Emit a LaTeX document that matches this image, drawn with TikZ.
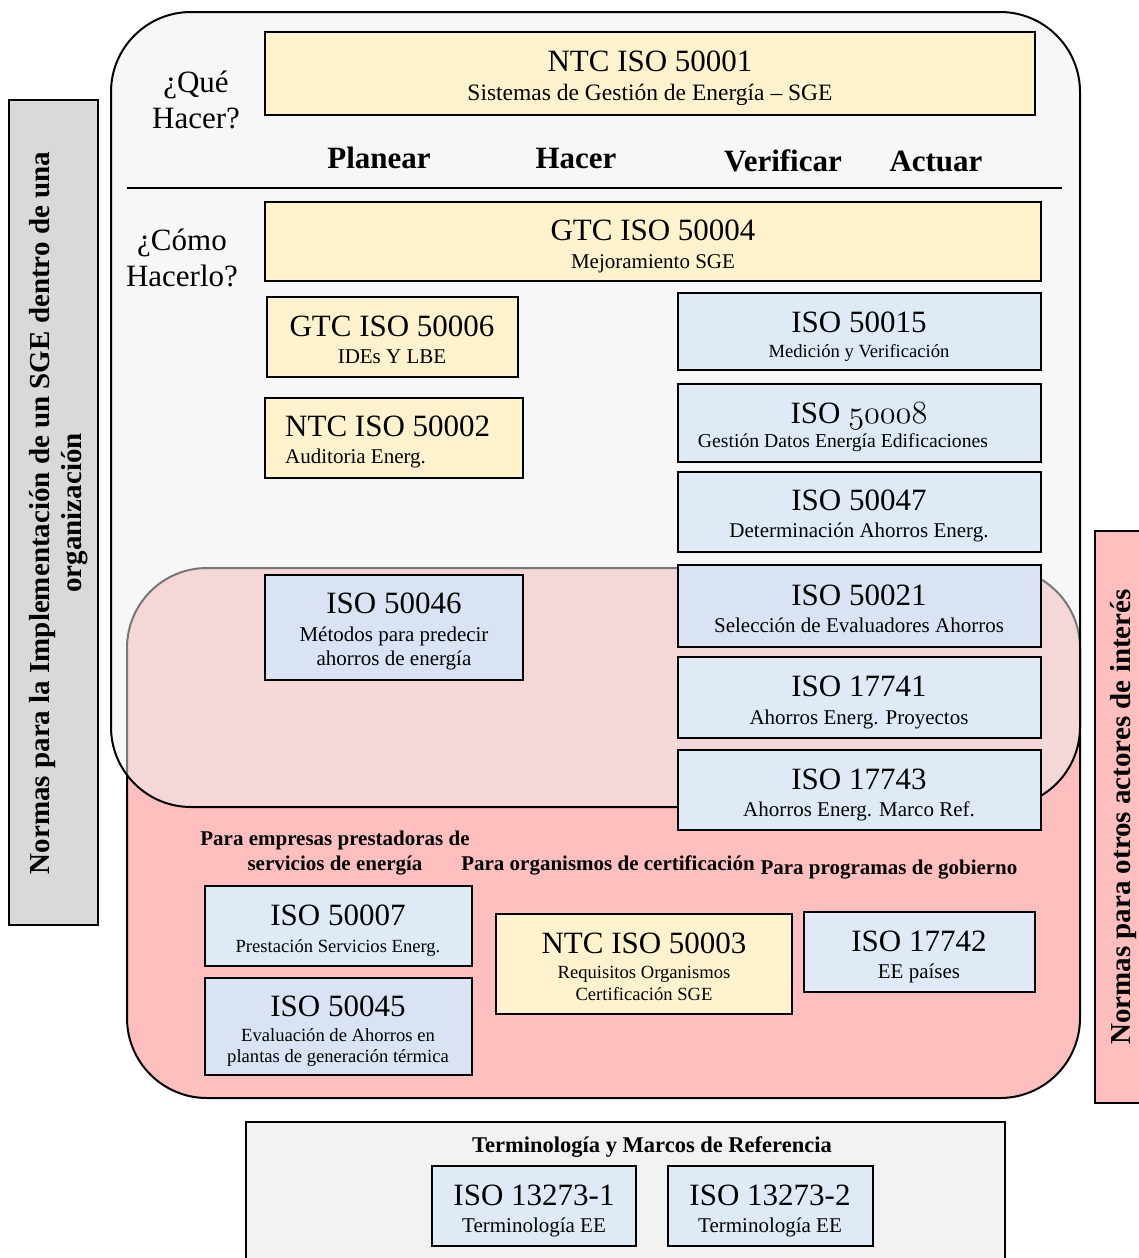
\documentclass[tikz,border=0pt]{standalone}
\usepackage{fontspec}
\setmainfont{Liberation Serif}
\usepackage{graphicx}
\definecolor{yel}{HTML}{FFF2CC}
\definecolor{lb}{HTML}{DEEBF7}
\definecolor{db}{HTML}{DAE3F3}
\definecolor{pk}{HTML}{FFBFBF}
\definecolor{grf}{HTML}{EFEFEF}
\definecolor{sidegray}{HTML}{D9D9D9}
\definecolor{botgray}{HTML}{F2F2F2}
\begin{document}
\begin{tikzpicture}[x=1pt,y=-1pt,
  box/.style={draw=black, line width=1.5pt, inner sep=0pt, outer sep=0pt, anchor=north west},
  ybox/.style={box, fill=yel},
  lbox/.style={box, fill=lb},
  dbox/.style={box, fill=db},
  ttl/.style={font=\fontsize{31}{31}\selectfont, inner sep=0pt, text height=20.5pt, text depth=0pt},
  sub/.style={font=\fontsize{21}{21}\selectfont, inner sep=0pt, text height=14pt, text depth=0pt},
  ssub/.style={font=\fontsize{18.6}{18.6}\selectfont, inner sep=0pt, text height=12.3pt, text depth=0pt},
  phase/.style={font=\fontsize{31}{31}\selectfont\bfseries, inner sep=0pt, text height=20.5pt, text depth=0pt},
  q/.style={font=\fontsize{31}{31}\selectfont, inner sep=0pt, text height=20.5pt, text depth=0pt},
  lab/.style={font=\fontsize{21}{21}\selectfont\bfseries, inner sep=0pt, text height=14pt, text depth=0pt},
  side/.style={font=\fontsize{29}{29}\selectfont\bfseries, inner sep=0pt, text height=19pt, text depth=0pt, rotate=90}
]
\useasboundingbox (0,0) rectangle (1138,1258);

% big rounded areas
\node[draw=black, line width=2pt, fill=pk, rounded corners=80pt, minimum width=953pt, minimum height=530pt, inner sep=0pt, outer sep=0pt, anchor=north west] (pinkarea) at (127,568) {};
\node[draw=black, line width=2pt, fill=grf, fill opacity=0.5, rounded corners=80pt, minimum width=969pt, minimum height=795pt, inner sep=0pt, outer sep=0pt, anchor=north west] (grayarea) at (111,12) {};

% side boxes
\node[box, fill=sidegray, minimum width=89pt, minimum height=825pt] (leftbox) at (9,100) {};
\node[side] (lt1) at (40,513) {Normas para la Implementación de un SGE dentro de una};
\node[side] (lt2) at (72,513) {organización};
\node[box, fill=pk, minimum width=50pt, minimum height=572pt] (rightbox) at (1095,531) {};
\node[side] (rt) at (1121,817) {Normas para otros actores de interés};

% top part
\node[q] (que1) at (196,82) {¿Qué};
\node[q] (que2) at (196,118) {Hacer?};
\node[ybox, minimum width=770pt, minimum height=83pt] (b50001) at (265,32) {};
\node[ttl] (t50001) at (650,61) {NTC ISO 50001};
\node[font=\fontsize{23.5}{23.5}\selectfont, inner sep=0pt, text height=15.5pt, text depth=0pt] (s50001) at (650,93) {Sistemas de Gestión de Energía – SGE};

\node[phase] (planear) at (379,158) {Planear};
\node[phase] (hacer) at (576,158) {Hacer};
\node[phase] (verif) at (783,161) {Verificar};
\node[phase] (actuar) at (936,161) {Actuar};

\coordinate (lineL) at (127,188);
\coordinate (lineR) at (1062,188);
\draw[line width=1.6pt] (lineL) -- (lineR);

\node[q] (como1) at (182,240) {¿Cómo};
\node[q] (como2) at (182,276) {Hacerlo?};

\node[ybox, minimum width=776pt, minimum height=79pt] (b50004) at (265,202) {};
\node[ttl] (t50004) at (653,230) {GTC ISO 50004};
\node[sub] (s50004) at (653,261) {Mejoramiento SGE};

\node[ybox, minimum width=251pt, minimum height=80pt] (b50006) at (267,297) {};
\node[ttl] (t50006) at (392,326) {GTC ISO 50006};
\node[sub] (s50006) at (392,356) {IDEs Y LBE};

\node[ybox, minimum width=258pt, minimum height=80pt] (b50002) at (265,398) {};
\node[ttl, anchor=west] (t50002) at (285,426) {NTC ISO 50002};
\node[sub, anchor=west] (s50002) at (285,456) {Auditoria Energ.};

\node[lbox, minimum width=363pt, minimum height=77pt] (b50015) at (678,293) {};
\node[ttl] (t50015) at (859,322) {ISO 50015};
\node[ssub] (s50015) at (859,351) {Medición y Verificación};

\node[lbox, minimum width=363pt, minimum height=78pt] (b50008) at (678,384) {};
\node[ttl] (t50008) at (859,413) {ISO \scalebox{1.3}{$\mathnormal{50008}$}};
\node[font=\fontsize{19.7}{19.7}\selectfont, inner sep=0pt, text height=13pt, text depth=0pt] (s50008) at (843,441) {Gestión Datos Energía Edificaciones};

\node[lbox, minimum width=363pt, minimum height=80pt] (b50047) at (678,472) {};
\node[ttl] (t50047) at (859,500) {ISO 50047};
\node[sub] (s50047) at (859,530) {Determinación Ahorros Energ.};

\node[dbox, minimum width=363pt, minimum height=82pt] (b50021) at (678,565) {};
\node[ttl] (t50021) at (859,595) {ISO 50021};
\node[sub] (s50021) at (859,625) {Selección de Evaluadores Ahorros};

\node[lbox, minimum width=363pt, minimum height=81pt] (b17741) at (678,657) {};
\node[ttl] (t17741) at (859,686) {ISO 17741};
\node[sub] (s17741) at (859,717) {Ahorros Energ. Proyectos};

\node[lbox, minimum width=363pt, minimum height=80pt] (b17743) at (678,750) {};
\node[ttl] (t17743) at (859,779) {ISO 17743};
\node[sub] (s17743) at (859,809) {Ahorros Energ. Marco Ref.};

\node[dbox, minimum width=258pt, minimum height=105pt] (b50046) at (265,575) {};
\node[ttl] (t50046) at (394,603) {ISO 50046};
\node[sub] (s50046a) at (394,634) {Métodos para predecir};
\node[sub] (s50046b) at (394,658) {ahorros de energía};

% lower part
\node[lab] (l1a) at (335,838) {Para empresas prestadoras de};
\node[lab] (l1b) at (335,863) {servicios de energía};
\node[lab] (l2) at (608,863) {Para organismos de certificación};
\node[lab] (l3) at (889,867) {Para programas de gobierno};

\node[lbox, minimum width=267pt, minimum height=80pt] (b50007) at (205,886) {};
\node[ttl] (t50007) at (338,915) {ISO 50007};
\node[ssub] (s50007) at (338,946) {Prestación Servicios Energ.};

\node[dbox, minimum width=267pt, minimum height=97pt] (b50045) at (205,978) {};
\node[ttl] (t50045) at (338,1006) {ISO 50045};
\node[ssub] (s50045a) at (338,1035) {Evaluación de Ahorros en};
\node[ssub] (s50045b) at (338,1056) {plantas de generación térmica};

\node[ybox, minimum width=296pt, minimum height=100pt] (b50003) at (496,914) {};
\node[ttl] (t50003) at (644,943) {NTC ISO 50003};
\node[ssub] (s50003a) at (644,972) {Requisitos Organismos};
\node[ssub] (s50003b) at (644,994) {Certificación SGE};

\node[lbox, minimum width=231pt, minimum height=80pt] (b17742) at (804,912) {};
\node[ttl] (t17742) at (919,941) {ISO 17742};
\node[sub] (s17742) at (919,971) {EE países};

% bottom box
\node[box, fill=botgray, minimum width=759pt, minimum height=142pt] (bterm) at (246,1122) {};
\node[font=\fontsize{22.5}{22.5}\selectfont\bfseries, inner sep=0pt, text height=15pt, text depth=0pt] (lterm) at (652,1145) {Terminología y Marcos de Referencia};

\node[lbox, minimum width=204pt, minimum height=80pt] (b13273a) at (432,1166) {};
\node[ttl] (t13273a) at (534,1195) {ISO 13273-1};
\node[sub] (s13273a) at (534,1225) {Terminología EE};

\node[lbox, minimum width=205pt, minimum height=80pt] (b13273b) at (668,1166) {};
\node[ttl] (t13273b) at (770,1195) {ISO 13273-2};
\node[sub] (s13273b) at (770,1225) {Terminología EE};
\end{tikzpicture}
\end{document}
